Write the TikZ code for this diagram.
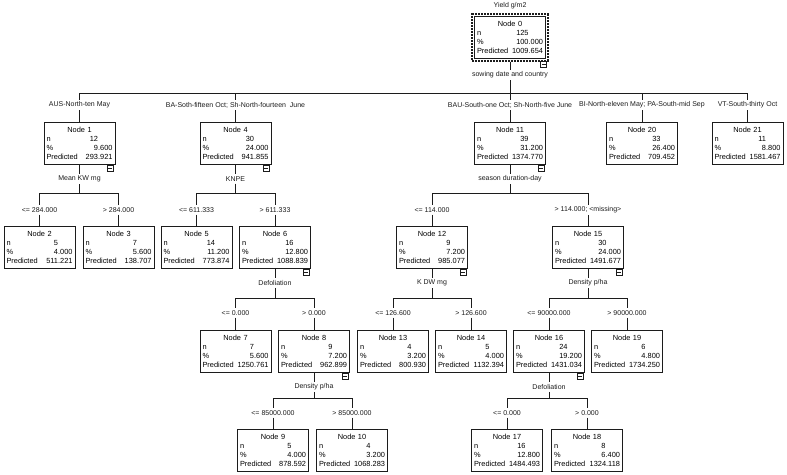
\documentclass[tikz,border=0pt]{standalone}
\usepackage{fontspec}
\setmainfont{Liberation Sans}
\usetikzlibrary{fit,positioning}
\definecolor{ink}{HTML}{1C1C1C}
\tikzset{
cell/.style={draw=ink,line width=.9pt,minimum width=71pt,minimum height=42pt,text width=66pt,inner sep=2.5pt,align=center,font=\fontsize{7.4}{9}\selectfont,anchor=north},
rootframe/.style={draw=ink,densely dotted,line width=2pt,inner sep=1.6pt},
crit/.style={font=\fontsize{7}{8}\selectfont,inner sep=2pt,text=ink},
cut/.style={crit},
wire/.style={draw=ink,line width=.9pt},
toggle/.style={draw=ink,line width=.6pt}}
\newcommand{\stats}[4]{Node #1\\n\hfill #2\phantom{.000}\\\%\hfill #3\\Predicted\hfill #4}
\newcommand{\fold}[1]{\draw[toggle] ([xshift=-8pt]#1.south east) rectangle ++(6,6);\draw[toggle] ([shift={(-7,3)}]#1.south east) -- ++(4,0);}
\begin{document}
\begin{tikzpicture}[x=1pt,y=-1pt]
\useasboundingbox (0,0) rectangle (787,474);
% root
\node[crit] (title) at (510,6) {Yield g/m2};
\node[cell] (n0) at (510,16) {\stats{0}{125}{100.000}{1009.654}};
\node[rootframe,fit=(n0)] (n0f) {};
\fold{n0f}
\node[crit] (s0) at (510,75) {sowing date and country};
\coordinate (h0) at (510,93);
\draw[wire] (n0f) -- (s0);
\draw[wire] (s0) -- (h0);
% first split
\node[cut] (b1) at (79.5,105) {AUS-North-ten May};
\node[cut] (b4) at (235.5,105) {BA-Soth-fifteen Oct; Sh-North-fourteen\ \ June};
\node[cut] (b11) at (510,105) {BAU-South-one Oct; Sh-North-five June};
\node[cut] (b20) at (642,105) {BI-North-eleven May; PA-South-mid Sep};
\node[cut] (b21) at (747.5,105) {VT-South-thirty Oct};
\node[cell] (n1) at (79.5,122) {\stats{1}{12}{9.600}{293.921}};
\node[cell] (n4) at (235.5,122) {\stats{4}{30}{24.000}{941.855}};
\node[cell] (n11) at (510,122) {\stats{11}{39}{31.200}{1374.770}};
\node[cell] (n20) at (642,122) {\stats{20}{33}{26.400}{709.452}};
\node[cell] (n21) at (747.5,122) {\stats{21}{11}{8.800}{1581.467}};
\fold{n1}
\fold{n4}
\fold{n11}
\draw[wire] (h0) -| (b1);
\draw[wire] (h0) -| (b4);
\draw[wire] (h0) -| (b11);
\draw[wire] (h0) -| (b20);
\draw[wire] (h0) -| (b21);
\draw[wire] (b1) -- (n1);
\draw[wire] (b4) -- (n4);
\draw[wire] (b11) -- (n11);
\draw[wire] (b20) -- (n20);
\draw[wire] (b21) -- (n21);
% second level
\node[crit] (s1) at (79.5,179) {Mean KW mg};
\node[crit] (s4) at (235.5,179) {KNPE};
\node[crit] (s11) at (510,179) {season duration-day};
\coordinate (h1) at (79.5,193);
\coordinate (h4) at (235.5,193);
\coordinate (h11) at (510,193);
\draw[wire] (n1) -- (s1);
\draw[wire] (n4) -- (s4);
\draw[wire] (n11) -- (s11);
\draw[wire] (s1) -- (h1);
\draw[wire] (s4) -- (h4);
\draw[wire] (s11) -- (h11);
\node[cut] (b2) at (39.5,210) {<= 284.000};
\node[cut] (b3) at (118.5,210) {> 284.000};
\node[cut] (b5) at (196.5,210) {<= 611.333};
\node[cut] (b6) at (275,210) {> 611.333};
\node[cut] (b12) at (432,210) {<= 114.000};
\node[cut] (b15) at (588,210) {> 114.000; <missing>};
\node[cell] (n2) at (39.5,226) {\stats{2}{5}{4.000}{511.221}};
\node[cell] (n3) at (118.5,226) {\stats{3}{7}{5.600}{138.707}};
\node[cell] (n5) at (196.5,226) {\stats{5}{14}{11.200}{773.874}};
\node[cell] (n6) at (275,226) {\stats{6}{16}{12.800}{1088.839}};
\node[cell] (n12) at (432,226) {\stats{12}{9}{7.200}{985.077}};
\node[cell] (n15) at (588,226) {\stats{15}{30}{24.000}{1491.677}};
\fold{n6}
\fold{n12}
\fold{n15}
\draw[wire] (h1) -| (b2);
\draw[wire] (h1) -| (b3);
\draw[wire] (h4) -| (b5);
\draw[wire] (h4) -| (b6);
\draw[wire] (h11) -| (b12);
\draw[wire] (h11) -| (b15);
\draw[wire] (b2) -- (n2);
\draw[wire] (b3) -- (n3);
\draw[wire] (b5) -- (n5);
\draw[wire] (b6) -- (n6);
\draw[wire] (b12) -- (n12);
\draw[wire] (b15) -- (n15);
% third level
\node[crit] (s6) at (275,283) {Defoliation};
\node[crit] (s12) at (432,283) {K DW mg};
\node[crit] (s15) at (588,283) {Density p/ha};
\coordinate (h6) at (275,298);
\coordinate (h12) at (432,298);
\coordinate (h15) at (588,298);
\draw[wire] (n6) -- (s6);
\draw[wire] (n12) -- (s12);
\draw[wire] (n15) -- (s15);
\draw[wire] (s6) -- (h6);
\draw[wire] (s12) -- (h12);
\draw[wire] (s15) -- (h15);
\node[cut] (b7) at (235.5,313) {<= 0.000};
\node[cut] (b8) at (314,313) {> 0.000};
\node[cut] (b13) at (393,313) {<= 126.600};
\node[cut] (b14) at (471,313) {> 126.600};
\node[cut] (b16) at (549,313) {<= 90000.000};
\node[cut] (b19) at (627,313) {> 90000.000};
\node[cell] (n7) at (235.5,330) {\stats{7}{7}{5.600}{1250.761}};
\node[cell] (n8) at (314,330) {\stats{8}{9}{7.200}{962.899}};
\node[cell] (n13) at (393,330) {\stats{13}{4}{3.200}{800.930}};
\node[cell] (n14) at (471,330) {\stats{14}{5}{4.000}{1132.394}};
\node[cell] (n16) at (549,330) {\stats{16}{24}{19.200}{1431.034}};
\node[cell] (n19) at (627,330) {\stats{19}{6}{4.800}{1734.250}};
\fold{n8}
\fold{n16}
\draw[wire] (h6) -| (b7);
\draw[wire] (h6) -| (b8);
\draw[wire] (h12) -| (b13);
\draw[wire] (h12) -| (b14);
\draw[wire] (h15) -| (b16);
\draw[wire] (h15) -| (b19);
\draw[wire] (b7) -- (n7);
\draw[wire] (b8) -- (n8);
\draw[wire] (b13) -- (n13);
\draw[wire] (b14) -- (n14);
\draw[wire] (b16) -- (n16);
\draw[wire] (b19) -- (n19);
% fourth level
\node[crit] (s8) at (314,387) {Density p/ha};
\node[crit] (s16) at (549,387) {Defoliation};
\coordinate (h8) at (314,398);
\coordinate (h16) at (549,398);
\draw[wire] (n8) -- (s8);
\draw[wire] (n16) -- (s16);
\draw[wire] (s8) -- (h8);
\draw[wire] (s16) -- (h16);
\node[cut] (b9) at (273,413) {<= 85000.000};
\node[cut] (b10) at (352,413) {> 85000.000};
\node[cut] (b17) at (507,413) {<= 0.000};
\node[cut] (b18) at (587,413) {> 0.000};
\node[cell] (n9) at (273,429) {\stats{9}{5}{4.000}{878.592}};
\node[cell] (n10) at (352,429) {\stats{10}{4}{3.200}{1068.283}};
\node[cell] (n17) at (507,429) {\stats{17}{16}{12.800}{1484.493}};
\node[cell] (n18) at (587,429) {\stats{18}{8}{6.400}{1324.118}};
\draw[wire] (h8) -| (b9);
\draw[wire] (h8) -| (b10);
\draw[wire] (h16) -| (b17);
\draw[wire] (h16) -| (b18);
\draw[wire] (b9) -- (n9);
\draw[wire] (b10) -- (n10);
\draw[wire] (b17) -- (n17);
\draw[wire] (b18) -- (n18);
\end{tikzpicture}
\end{document}
